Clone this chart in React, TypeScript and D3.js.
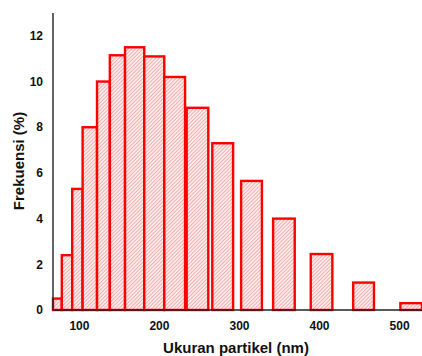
import { useEffect, useRef } from 'react';
import * as d3 from 'd3';

// bins (nm) and frequency (%)
const binStart = [67, 78, 91, 104, 122, 138, 157, 181, 206, 234, 266, 302, 342, 389, 442, 501];
const binEnd = [78, 91, 104, 122, 138, 157, 181, 206, 232, 261, 292, 328, 369, 416, 468, 528];
const frekuensi = [0.5, 2.4, 5.3, 8.0, 10.0, 11.15, 11.5, 11.1, 10.2, 8.85, 7.3, 5.65, 4.0, 2.45, 1.2, 0.3];
const xTicks = [100, 200, 300, 400, 500];
const yTicks = [0, 2, 4, 6, 8, 10, 12];

const width = 422;
const height = 356;
const font = '"Liberation Sans", Arial, sans-serif';

export default function App() {
  const svgRef = useRef<SVGSVGElement>(null);

  useEffect(() => {
    if (!svgRef.current) return;
    const svg = d3.select(svgRef.current);
    svg.selectAll('*').remove();

    const x = d3.scaleLinear().domain([67, 528]).range([53, 422]);
    const y = d3.scaleLinear().domain([0, 13]).range([310, 13]);

    // hatch fill
    const pattern = svg.append('defs').append('pattern')
      .attr('id', 'hatch')
      .attr('patternUnits', 'userSpaceOnUse')
      .attr('width', 2.6)
      .attr('height', 2.6)
      .attr('patternTransform', 'rotate(45)');
    pattern.append('rect')
      .attr('width', 2.6)
      .attr('height', 2.6)
      .attr('fill', '#fdeeee');
    pattern.append('line')
      .attr('x1', 0.5).attr('y1', 0)
      .attr('x2', 0.5).attr('y2', 2.6)
      .attr('stroke', '#f29c9c')
      .attr('stroke-width', 0.8);

    const bins = frekuensi.map((v, i) => ({ x0: binStart[i], x1: binEnd[i], v }));

    svg.append('g')
      .selectAll('rect')
      .data(bins)
      .enter()
      .append('rect')
      .attr('x', d => x(d.x0))
      .attr('y', d => y(d.v))
      .attr('width', d => x(d.x1) - x(d.x0))
      .attr('height', d => y(0) - y(d.v))
      .attr('fill', 'url(#hatch)')
      .attr('stroke', '#ff0000')
      .attr('stroke-width', 2.4);

    // axes
    svg.append('line')
      .attr('x1', x(67)).attr('x2', width)
      .attr('y1', y(0)).attr('y2', y(0))
      .attr('stroke', '#222')
      .attr('stroke-width', 1.4);
    svg.append('line')
      .attr('x1', x(67)).attr('x2', x(67))
      .attr('y1', y(13)).attr('y2', y(0))
      .attr('stroke', '#222')
      .attr('stroke-width', 1.4);

    svg.append('g')
      .selectAll('text')
      .data(yTicks)
      .enter()
      .append('text')
      .attr('x', 43)
      .attr('y', d => y(d))
      .attr('dy', '0.35em')
      .attr('text-anchor', 'end')
      .attr('font-size', '12px')
      .attr('font-weight', '700')
      .attr('fill', '#111')
      .style('font-family', font)
      .text(d => d);

    svg.append('g')
      .selectAll('text')
      .data(xTicks)
      .enter()
      .append('text')
      .attr('x', d => x(d))
      .attr('y', 330)
      .attr('text-anchor', 'middle')
      .attr('font-size', '12px')
      .attr('font-weight', '700')
      .attr('fill', '#111')
      .style('font-family', font)
      .text(d => d);

    svg.append('text')
      .attr('x', 236)
      .attr('y', 353)
      .attr('text-anchor', 'middle')
      .attr('font-size', '15px')
      .attr('font-weight', '700')
      .attr('fill', '#111')
      .style('font-family', font)
      .text('Ukuran partikel (nm)');

    svg.append('text')
      .attr('transform', 'translate(24, 161) rotate(-90)')
      .attr('text-anchor', 'middle')
      .attr('font-size', '15px')
      .attr('font-weight', '700')
      .attr('fill', '#111')
      .style('font-family', font)
      .text('Frekuensi (%)');
  }, []);

  return (
    <svg
      ref={svgRef}
      width={width}
      height={height}
      style={{ position: 'absolute', left: 0, top: 0, background: '#fff' }}
    />
  );
}
